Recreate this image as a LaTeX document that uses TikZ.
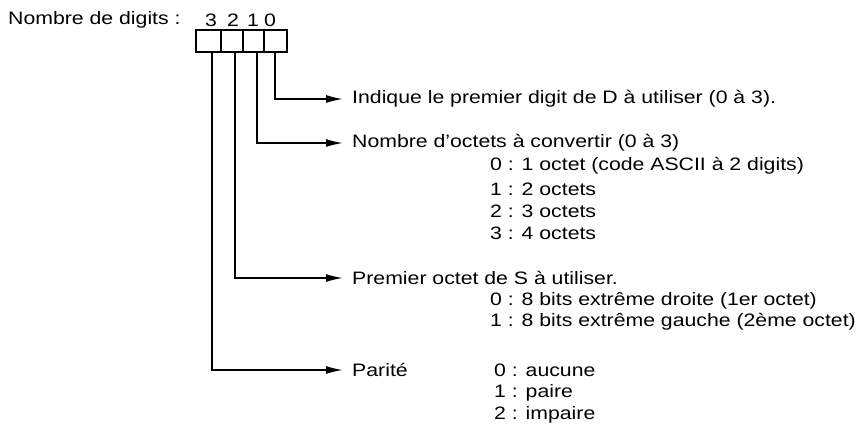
\documentclass[tikz,border=0pt]{standalone}
\usepackage{fontspec}
\setmainfont{Liberation Sans}
\usetikzlibrary{arrows.meta}
\begin{document}
\begin{tikzpicture}[x=1pt,y=-1pt,
  lbl/.style={anchor=west,inner sep=0pt,xscale=1.18,transform shape,font=\fontsize{18}{20}\selectfont},
  conn/.style={line width=1.6pt,-{Latex[length=17pt,width=8pt]}},
  box/.style={draw,line width=1.5pt,minimum height=22pt,inner sep=0pt,anchor=north west}]
\useasboundingbox (0,0) rectangle (865,431);
\node[lbl] (title) at (8,20) {Nombre de digits :};
\node[box,minimum width=25pt] (b3) at (195,29) {};
\node[box,minimum width=22pt] (b2) at (220,29) {};
\node[box,minimum width=21pt] (b1) at (242,29) {};
\node[box,minimum width=23pt] (b0) at (263,29) {};
\node[lbl,anchor=center] (n3) at (211,20) {3};
\node[lbl,anchor=center] (n2) at (233,20) {2};
\node[lbl,anchor=center] (n1) at (253,20) {1};
\node[lbl,anchor=center] (n0) at (270,20) {0};
\node[lbl] (t0) at (352,99) {Indique le premier digit de D à utiliser (0 à 3).};
\node[lbl] (t1) at (352,143) {Nombre d'octets à convertir (0 à 3)};
\node[lbl] at (490,166) {0 : 1 octet (code ASCII à 2 digits)};
\node[lbl] at (490,189) {1 : 2 octets};
\node[lbl] at (490,211) {2 : 3 octets};
\node[lbl] at (490,233) {3 : 4 octets};
\node[lbl] (t2) at (352,278) {Premier octet de S à utiliser.};
\node[lbl] at (490,301) {0 : 8 bits extrême droite (1er octet)};
\node[lbl] at (490,322) {1 : 8 bits extrême gauche (2ème octet)};
\node[lbl] (t3) at (352,370) {Parité};
\node[lbl] at (494,370) {0 : aucune};
\node[lbl] at (494,393) {1 : paire};
\node[lbl] at (494,415) {2 : impaire};
\draw[conn] (b0.south) |- ([xshift=-9pt]t0.west);
\draw[conn] ([xshift=3.5pt]b1.south) |- ([xshift=-9pt]t1.west);
\draw[conn] ([xshift=3pt]b2.south) |- ([xshift=-9pt]t2.west);
\draw[conn] ([xshift=3.5pt]b3.south) |- ([xshift=-9pt]t3.west);
\end{tikzpicture}
\end{document}
